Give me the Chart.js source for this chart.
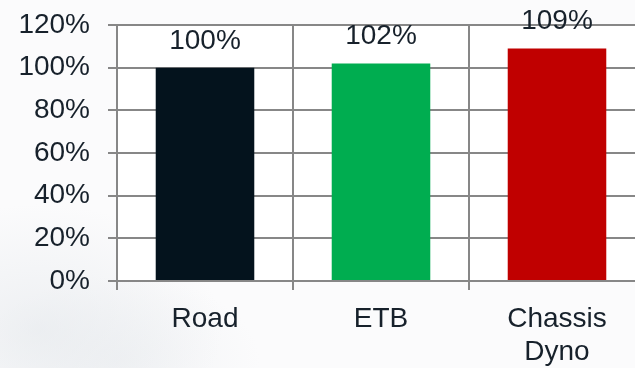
<!DOCTYPE html>
<html>
<head>
<meta charset="utf-8">
<script src="https://cdn.jsdelivr.net/npm/chart.js@4/dist/chart.umd.min.js"></script>
<style>
  html, body { margin: 0; padding: 0; background: #ffffff; }
  #wrap {
    width: 635px; height: 368px; overflow: hidden; position: relative;
    background:
      radial-gradient(ellipse 260px 180px at 40px 330px, rgba(226,230,234,0.55), rgba(255,255,255,0) 70%),
      radial-gradient(ellipse 200px 120px at 120px 360px, rgba(232,235,238,0.5), rgba(255,255,255,0) 70%),
      #fbfbfc;
  }
  canvas { display: block; }
</style>
</head>
<body>
<div id="wrap"><canvas id="c" width="650" height="368" style="width:650px;height:368px"></canvas></div>
<script>
// Relative result of each test method (Road = 100%)
const categories = ['Road', 'ETB', ['Chassis', 'Dyno']];
const values = [1.00, 1.02, 1.09];
const barColors = ['#04131d', '#00ad50', '#c00000'];
const yTicks = [0, 0.2, 0.4, 0.6, 0.8, 1.0, 1.2];

const FONT = '"Liberation Sans", Arial, sans-serif';
const TEXT = '#17212b';
const GRID = '#878787';

const pct = v => Math.round(v * 100) + '%';

// White plot background, axis line over the bars, and value labels above each bar
const decor = {
  id: 'decor',
  beforeDraw(chart) {
    const a = chart.chartArea, ctx = chart.ctx;
    ctx.save();
    ctx.fillStyle = '#ffffff';
    ctx.fillRect(a.left, a.top, a.right - a.left, a.bottom - a.top);
    ctx.restore();
  },
  afterDatasetsDraw(chart) {
    const ctx = chart.ctx, a = chart.chartArea;
    const y0 = chart.scales.y.getPixelForValue(0);
    ctx.save();
    ctx.strokeStyle = GRID;
    ctx.lineWidth = 2;
    ctx.beginPath();
    ctx.moveTo(a.left - 9, y0);
    ctx.lineTo(a.right, y0);
    ctx.stroke();
    ctx.fillStyle = TEXT;
    ctx.font = '28px ' + FONT;
    ctx.textAlign = 'center';
    ctx.textBaseline = 'alphabetic';
    chart.getDatasetMeta(0).data.forEach((bar, i) => {
      ctx.fillText(pct(values[i]), bar.x, bar.y - 19);
    });
    ctx.restore();
  }
};

new Chart(document.getElementById('c'), {
  type: 'bar',
  data: {
    labels: categories,
    datasets: [{
      data: values,
      backgroundColor: barColors,
      borderWidth: 0,
      barPercentage: 0.56,
      categoryPercentage: 1.0
    }]
  },
  options: {
    responsive: false,
    animation: false,
    layout: { padding: { top: 25, right: 5, bottom: 0, left: 0 } },
    plugins: { legend: { display: false }, tooltip: { enabled: false } },
    scales: {
      x: {
        offset: true,
        grid: { color: GRID, lineWidth: 2, tickLength: 9, offset: true },
        border: { color: GRID, width: 2 },
        ticks: {
          color: TEXT,
          font: { family: FONT, size: 28, lineHeight: 1.2 },
          padding: 12,
          maxRotation: 0
        },
        afterFit(s) { s.height = 87; s.paddingLeft = 0; s.paddingRight = 0; }
      },
      y: {
        min: 0, max: 1.2,
        afterBuildTicks(s) { s.ticks = yTicks.map(v => ({ value: v })); },
        grid: { color: GRID, lineWidth: 2, tickLength: 9 },
        border: { color: GRID, width: 2 },
        ticks: {
          color: TEXT,
          font: { family: FONT, size: 28 },
          padding: 18,
          callback: v => pct(v)
        },
        afterFit(s) { s.width = 117; s.paddingTop = 0; s.paddingBottom = 0; }
      }
    }
  },
  plugins: [decor]
});
</script>
</body>
</html>
